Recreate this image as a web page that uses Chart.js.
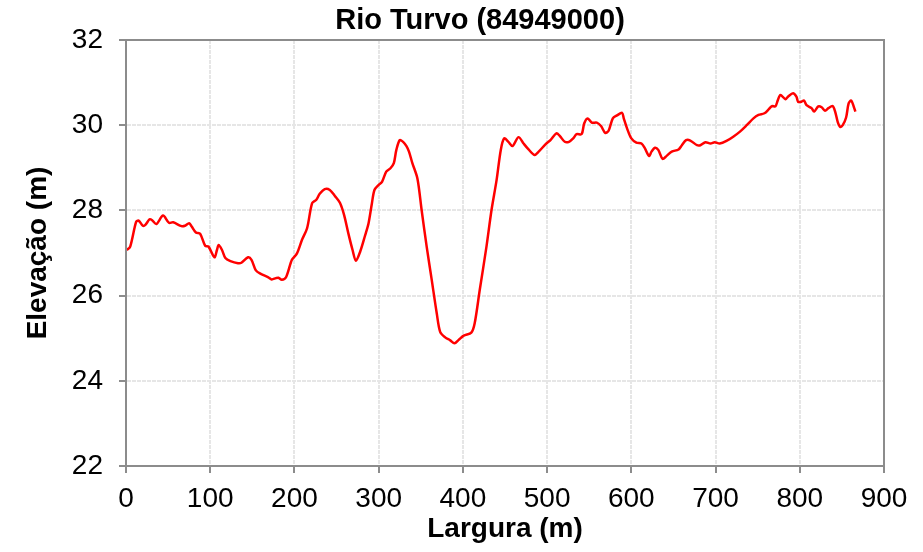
<!DOCTYPE html>
<html>
<head>
<meta charset="utf-8">
<script src="https://cdn.jsdelivr.net/npm/chart.js@4"></script>
<style>
  html, body { margin: 0; padding: 0; background: #ffffff; }
  #wrap { width: 923px; height: 552px; }
</style>
</head>
<body>
<div id="wrap"><canvas id="c" width="923" height="552"></canvas></div>
<script>
// Cross-section profile: distance across the river (m) and bed elevation (m)
const chartTitle = 'Rio Turvo (84949000)';
const xTitle = 'Largura (m)';
const yTitle = 'Elevação (m)';

const xTicks = [0, 100, 200, 300, 400, 500, 600, 700, 800, 900];
const yTicks = [22, 24, 26, 28, 30, 32];

const distance = [
  1, 5, 12, 15, 20, 23, 28, 31, 36, 44, 51, 56, 66, 70, 75, 78, 83, 88, 94, 98,
  105, 108, 110, 114, 118, 124, 133, 137, 145, 149, 154, 159, 169, 173, 178, 181, 185, 190, 197,
  203, 209, 215, 221, 226, 230, 236, 242, 248, 254, 259, 264, 269, 273, 278, 284, 288, 292, 295,
  300, 304, 309, 314, 318, 321, 325, 329, 333, 336, 340, 346, 351, 357, 363, 369, 373, 379, 385, 390, 395,
  401, 410, 414, 420, 428, 434, 440, 445, 449, 454, 459, 466, 472, 478, 485, 490, 498,
  504, 511, 515, 521, 526, 531, 535, 541, 544, 548, 553, 559, 564, 569, 573, 578, 583, 589, 591, 595,
  600, 606, 612, 616, 621, 624, 628, 632, 637, 642, 648, 656, 660, 665, 670, 678, 682, 688, 694, 699,
  705, 713, 721, 729, 737, 745, 751, 758, 763, 767, 771, 774, 777, 783, 786, 792, 796, 798,
  802, 805, 808, 814, 817, 822, 826, 830, 834, 839, 842, 845, 848, 851, 855, 858, 861, 864, 866
];

const elevation = [
  27.07, 27.15, 27.73, 27.76, 27.64, 27.66, 27.79, 27.77, 27.68, 27.88, 27.71, 27.72, 27.63, 27.64, 27.70, 27.62, 27.48, 27.45, 27.17, 27.15,
  26.90, 27.07, 27.19, 27.07, 26.88, 26.81, 26.76, 26.77, 26.90, 26.84, 26.60, 26.52, 26.43, 26.38, 26.41, 26.42, 26.37, 26.43, 26.84,
  26.99, 27.31, 27.58, 28.17, 28.25, 28.39, 28.50, 28.48, 28.34, 28.18, 27.89, 27.46, 27.07, 26.82, 27.03, 27.42, 27.70, 28.17, 28.48,
  28.60, 28.67, 28.91, 28.99, 29.11, 29.42, 29.65, 29.61, 29.51, 29.38, 29.11, 28.75, 28.01, 27.15, 26.37, 25.58, 25.15, 25.02, 24.95, 24.88, 24.96,
  25.06, 25.13, 25.35, 26.13, 27.15, 28.01, 28.71, 29.42, 29.69, 29.61, 29.51, 29.72, 29.57, 29.43, 29.30, 29.38, 29.55,
  29.65, 29.81, 29.75, 29.61, 29.61, 29.69, 29.79, 29.79, 30.04, 30.16, 30.06, 30.06, 29.98, 29.82, 29.87, 30.16, 30.23, 30.29, 30.16, 29.92,
  29.69, 29.59, 29.57, 29.46, 29.28, 29.38, 29.47, 29.42, 29.21, 29.28, 29.38, 29.43, 29.53, 29.65, 29.64, 29.53, 29.53, 29.60, 29.57, 29.60,
  29.57, 29.63, 29.73, 29.85, 30.00, 30.16, 30.24, 30.28, 30.37, 30.45, 30.44, 30.59, 30.71, 30.61, 30.67, 30.75, 30.67, 30.55,
  30.55, 30.58, 30.47, 30.40, 30.32, 30.44, 30.42, 30.34, 30.40, 30.45, 30.32, 30.08, 29.96, 30.00, 30.18, 30.51, 30.58, 30.44, 30.32
];

const points = distance.map((d, i) => ({ x: d, y: elevation[i] }));

const FONT = '"Liberation Sans", Arial, sans-serif';
const AXIS_GREY = '#8c8c8c';
const GRID_GREY = '#e6e6e6';

// Solid frame around the plot area, plus the chart heading
const framePlugin = {
  id: 'framePlugin',
  afterDraw(chart) {
    const { ctx, chartArea: a } = chart;
    ctx.save();
    ctx.setLineDash([]);
    ctx.strokeStyle = AXIS_GREY;
    ctx.lineWidth = 2;
    ctx.strokeRect(a.left, a.top, a.right - a.left, a.bottom - a.top);
    ctx.fillStyle = '#000000';
    ctx.font = 'bold 29px ' + FONT;
    ctx.textAlign = 'center';
    ctx.textBaseline = 'middle';
    ctx.fillText(chartTitle, (a.left + a.right) / 2 - 25, 21);
    ctx.restore();
  }
};

function gridOpts() {
  return {
    color: GRID_GREY,
    lineWidth: 2,
    tickColor: AXIS_GREY,
    tickLength: 7,
    tickWidth: 2,
    tickBorderDash: [],
    drawTicks: true
  };
}

new Chart(document.getElementById('c'), {
  type: 'line',
  data: {
    datasets: [{
      data: points,
      borderColor: '#ff0000',
      borderWidth: 2.5,
      pointRadius: 0,
      tension: 0.3,
      fill: false
    }]
  },
  options: {
    responsive: false,
    animation: false,
    layout: { padding: { top: 40, right: 39, left: 0, bottom: 0 } },
    plugins: {
      legend: { display: false },
      tooltip: { enabled: false },
      title: { display: false }
    },
    scales: {
      x: {
        type: 'linear',
        min: xTicks[0],
        max: xTicks[xTicks.length - 1],
        afterBuildTicks: (s) => { s.ticks = xTicks.map(v => ({ value: v })); },
        afterFit: (s) => { s.height = 86; },
        grid: gridOpts(),
        border: { display: true, color: AXIS_GREY, width: 2, dash: [4, 1] },
        ticks: {
          color: '#000000',
          font: { family: FONT, size: 28 },
          padding: 9,
          maxRotation: 0,
          autoSkip: false
        },
        title: {
          display: true,
          text: xTitle,
          color: '#000000',
          font: { family: FONT, size: 28, weight: 'bold' },
          padding: { top: 0, bottom: 6 }
        }
      },
      y: {
        type: 'linear',
        min: yTicks[0],
        max: yTicks[yTicks.length - 1],
        afterBuildTicks: (s) => { s.ticks = yTicks.map(v => ({ value: v })); },
        afterFit: (s) => { s.width = 126; },
        grid: gridOpts(),
        border: { display: true, color: AXIS_GREY, width: 2, dash: [4, 1] },
        ticks: {
          color: '#000000',
          font: { family: FONT, size: 28 },
          padding: 16,
          autoSkip: false
        },
        title: {
          display: true,
          text: yTitle,
          color: '#000000',
          font: { family: FONT, size: 28, weight: 'bold' },
          padding: { top: 21, bottom: 0 }
        }
      }
    }
  },
  plugins: [framePlugin]
});
</script>
</body>
</html>
